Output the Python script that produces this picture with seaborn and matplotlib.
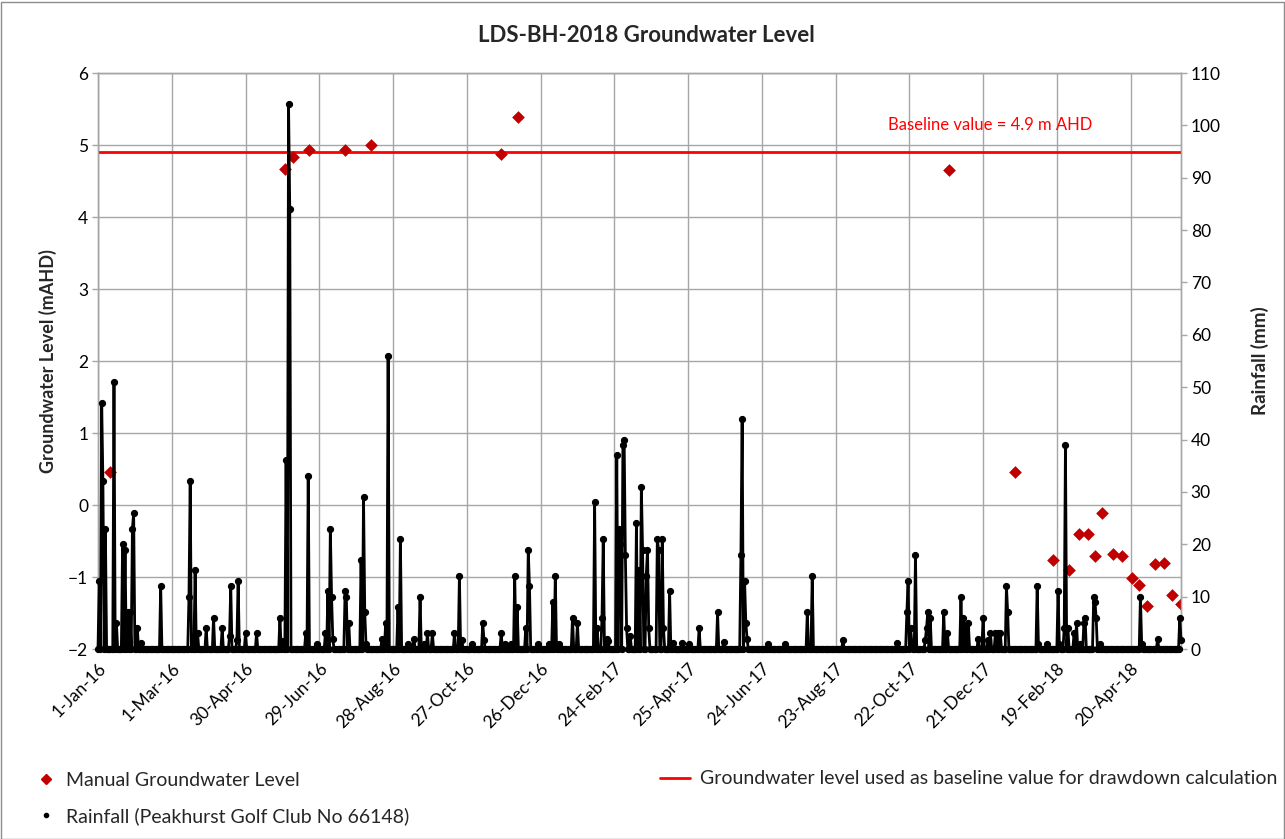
import numpy as np
import pandas as pd
import matplotlib
matplotlib.use("Agg")
import matplotlib.pyplot as plt
import seaborn as sns
from matplotlib.lines import Line2D
from matplotlib.patches import Rectangle

sns.set_theme(style="white")
plt.rcParams["font.family"] = ["Lato", "DejaVu Sans"]

# ---------------------------------------------------------------- data
record_start = "2016-01-01"
record_end = "2018-05-31"

# Daily rainfall, Peakhurst Golf Club No 66148.
# Day number counted from 1 Jan 2016; every day not listed recorded 0 mm.
rain_days = [
    1, 3, 4, 6, 13, 15, 20, 22, 24, 26, 28, 29, 32, 35, 51, 74, 75, 79, 81, 88,
    94, 101, 107, 108, 113, 114, 120, 129, 148, 150, 153, 155, 156, 169, 171,
    178, 185, 187, 189, 190, 191, 201, 202, 204, 214, 216, 217, 218, 231, 234,
    236, 244, 246, 252, 257, 262, 265, 268, 272, 290, 294, 296, 304, 313, 314,
    328, 331, 336, 339, 341, 348, 350, 351, 358, 367, 370, 372, 375, 386, 390,
    404, 406, 410, 411, 414, 415, 422, 424, 425, 427, 428, 429, 430, 433, 438,
    440, 442, 443, 446, 447, 448, 455, 456, 459, 460, 465, 468, 475, 481, 489,
    504, 509, 523, 524, 526, 527, 528, 545, 559, 577, 581, 606, 650, 658, 659,
    661, 662, 665, 673, 674, 675, 677, 688, 691, 702, 704, 706, 708, 716, 720,
    724, 726, 730, 732, 734, 739, 740, 764, 765, 772, 781, 782, 786, 787, 789,
    794, 796, 799, 802, 803, 810, 811, 812, 815, 848, 849, 862, 880, 881,
]
rain_mm = [
    13, 47, 32, 23, 51, 5, 20, 19, 7, 7, 23, 26, 4, 1.2, 12, 10, 32, 15, 3, 4,
    6, 4, 2.4, 12, 1.8, 13, 3, 3, 6, 1.5, 36, 104, 84, 3, 33,
    1, 3, 11, 23, 10, 2, 11, 10, 5, 17, 29, 7, 1, 2, 5,
    56, 8, 21, 1, 2, 10, 1, 3, 3, 3, 14, 1.7, 1, 5, 1.7,
    3, 1, 1, 14, 8, 4, 19, 12, 1, 1, 9, 14, 1, 6, 5,
    28, 4, 6, 21, 2, 1.5, 37, 23, 20, 39, 40, 18, 4, 2.4, 24,
    15, 31, 19, 14, 19, 4, 21, 19, 21, 4, 11, 1.2, 1.2, 1, 4,
    7, 1.3, 18, 44, 13, 5, 2, 1, 1, 7, 14, 1.8, 1.2, 7, 13,
    4, 1.4, 18, 1.8, 4, 7, 6, 7, 3, 10, 6, 4, 5, 2, 6,
    1.8, 3, 3, 3, 3, 12, 7, 12, 1, 1, 11, 1, 4, 39, 4,
    3, 5, 1, 5, 6, 10, 9, 6, 1, 10, 1, 2, 6, 1.8,
]

# Manual groundwater dips (m AHD)
gw_dates = [
    "2016-01-11", "2016-06-01", "2016-06-08", "2016-06-21", "2016-07-20",
    "2016-08-10", "2016-11-24", "2016-12-08", "2017-11-23", "2018-01-16",
    "2018-02-16", "2018-03-01", "2018-03-09", "2018-03-16", "2018-03-22",
    "2018-03-28", "2018-04-06", "2018-04-13", "2018-04-21", "2018-04-27",
    "2018-05-03", "2018-05-10", "2018-05-17", "2018-05-24", "2018-05-31",
]
gw_level = [
    0.46, 4.66, 4.84, 4.93, 4.93,
    5.00, 4.88, 5.39, 4.65, 0.46,
    -0.76, -0.90, -0.40, -0.40, -0.71,
    -0.11, -0.68, -0.71, -1.01, -1.11,
    -1.40, -0.82, -0.81, -1.25, -1.38,
]

baseline_level = 4.9

date_tick_labels = [
    "1-Jan-16", "1-Mar-16", "30-Apr-16", "29-Jun-16", "28-Aug-16",
    "27-Oct-16", "26-Dec-16", "24-Feb-17", "25-Apr-17", "24-Jun-17",
    "23-Aug-17", "22-Oct-17", "21-Dec-17", "19-Feb-18", "20-Apr-18",
]

# ---------------------------------------------------------------- frames
dates = pd.date_range(record_start, record_end, freq="D")
rain = np.zeros(len(dates))
rain[rain_days] = rain_mm
rain_df = pd.DataFrame({"date": dates, "rain": rain})
gw_df = pd.DataFrame({"date": pd.to_datetime(gw_dates), "level": gw_level})

# ---------------------------------------------------------------- figure
W, H = 1285, 839
fig = plt.figure(figsize=(W / 100, H / 100), dpi=100)
L, R, T, B = 98, 1181, 73, 649
ax = fig.add_axes([L / W, 1 - B / H, (R - L) / W, (B - T) / H])
ax2 = ax.twinx()

grid_c = "#a6a6a6"
red_mark = "#c00000"
red_line = "#ff0000"

ax.axhline(baseline_level, color=red_line, lw=2, zorder=3)
sns.scatterplot(data=gw_df, x="date", y="level", ax=ax, marker="D", s=42,
                color=red_mark, edgecolor=red_mark, linewidth=0, zorder=4)
sns.lineplot(data=rain_df, x="date", y="rain", ax=ax2, color="black", lw=2.0,
             marker="o", markersize=4.4, markeredgecolor="black",
             markeredgewidth=0.8, clip_on=False, zorder=5)

ax.set_xlim(dates[0], dates[-1])
ax.set_ylim(-2, 6)
ax2.set_ylim(0, 110)
ax.set_yticks(np.arange(-2, 7, 1))
ax2.set_yticks(np.arange(0, 111, 10))

tick_pos = pd.to_datetime(date_tick_labels, format="%d-%b-%y")
ax.set_xticks(tick_pos)
ax.set_xticklabels(date_tick_labels, rotation=45, ha="right",
                   rotation_mode="anchor")

ax.grid(True, color=grid_c, lw=1)
ax.set_axisbelow(True)
ax2.grid(False)

for a in (ax, ax2):
    for s in a.spines.values():
        s.set_color(grid_c)
        s.set_linewidth(1)
    a.tick_params(axis="both", which="major", direction="out", length=4,
                  width=1, color=grid_c, labelsize=12.5, labelcolor="black",
                  pad=3)
ax.tick_params(axis="x", pad=4)

ax.set_xlabel("")
ax2.set_xlabel("")
ax.set_ylabel("Groundwater Level (mAHD)", fontsize=13, fontweight="bold",
              labelpad=8)
ax2.set_ylabel("Rainfall (mm)", fontsize=13.5, fontweight="bold",
               labelpad=22)

fig.text(0.503, 1 - 35 / H, "LDS-BH-2018 Groundwater Level", ha="center",
         va="center", fontsize=16, fontweight="bold")

ax.text(0.824, 0.91, "Baseline value = 4.9 m AHD", transform=ax.transAxes,
        color=red_line, ha="center", va="center", fontsize=12)

# legend, drawn below the plot in two blocks
fs_leg = 14
left_handles = [
    Line2D([], [], marker="D", color=red_mark, ls="none", markersize=5.5),
    Line2D([], [], marker="o", color="black", ls="none", markersize=3),
]
fig.legend(left_handles,
           ["Manual Groundwater Level",
            "Rainfall (Peakhurst Golf Club No 66148)"],
           loc="center left", bbox_to_anchor=(36 / W, 1 - 798.5 / H),
           frameon=False, fontsize=fs_leg, handlelength=1.0,
           handletextpad=0.55, labelspacing=0.95, borderpad=0,
           borderaxespad=0)
fig.legend([Line2D([], [], color=red_line, lw=2)],
           ["Groundwater level used as baseline value for drawdown calculation"],
           loc="center left", bbox_to_anchor=(660 / W, 1 - 779 / H),
           frameon=False, fontsize=fs_leg, handlelength=1.55,
           handletextpad=0.5, borderpad=0, borderaxespad=0)

fig.patches.append(Rectangle((0.5 / W, 0.5 / H), 1 - 2 / W, 1 - 2 / H,
                             transform=fig.transFigure, fill=False,
                             edgecolor="#8c8c8c", lw=1))

fig.savefig("out.png", dpi=100)
